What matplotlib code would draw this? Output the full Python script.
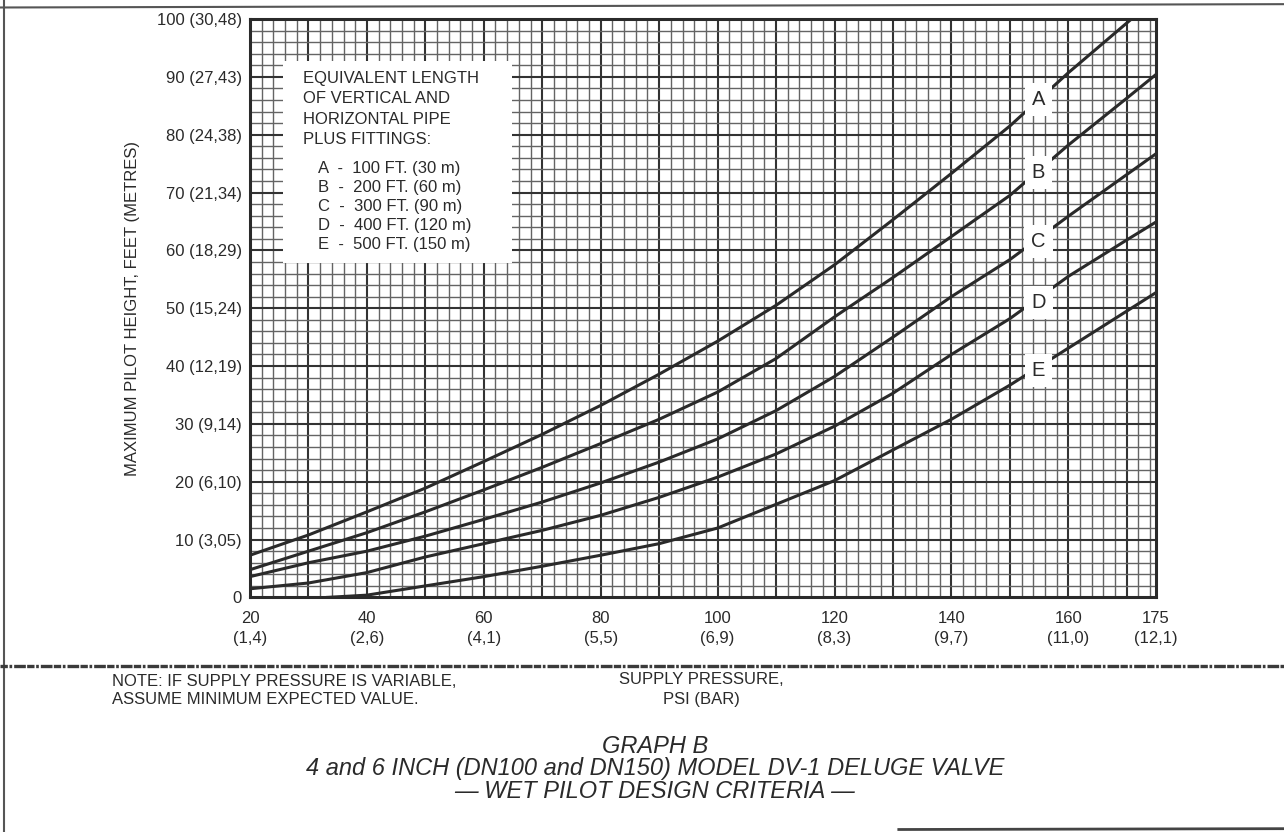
import matplotlib

matplotlib.use("Agg")

import matplotlib.pyplot as plt
import numpy as np
from matplotlib.lines import Line2D
from matplotlib.patches import Rectangle

plt.rcParams["font.family"] = ["Liberation Sans", "DejaVu Sans"]

psi = [20, 30, 40, 50, 60, 70, 80, 90, 100, 110, 120, 130, 140, 150, 160, 170, 175]
height_a = [7.3, 10.8, 14.8, 18.9, 23.5, 28.2, 33.2, 38.6, 44.3, 50.5, 57.5, 65.3, 73.3, 81.5, 90.7, 99.3, 103.6]
height_b = [4.8, 8.0, 11.2, 14.8, 18.6, 22.5, 26.6, 30.8, 35.5, 41.3, 48.5, 55.3, 62.4, 69.5, 78.2, 86.3, 90.4]
height_c = [3.6, 6.0, 8.0, 10.6, 13.5, 16.5, 19.8, 23.4, 27.4, 32.3, 38.2, 45.0, 52.0, 58.4, 65.9, 73.1, 76.7]
height_d = [1.5, 2.5, 4.3, 7.0, 9.3, 11.6, 14.2, 17.3, 20.8, 24.8, 29.6, 35.3, 42.0, 48.2, 55.5, 61.8, 64.9]
psi_e = [33, 40, 50, 60, 70, 80, 90, 100, 110, 120, 130, 140, 150, 160, 170, 175]
height_e = [0.0, 0.4, 2.0, 3.6, 5.4, 7.3, 9.3, 12.0, 16.1, 20.2, 25.5, 30.8, 36.7, 43.1, 49.5, 52.7]

curve_names = ["A", "B", "C", "D", "E"]
label_psi = 154.9
label_heights = [86.1, 73.5, 61.5, 51.0, 39.3]

legend_heading = ["EQUIVALENT LENGTH", "OF VERTICAL AND", "HORIZONTAL PIPE", "PLUS FITTINGS:"]
legend_items = [
    "A  -  100 FT. (30 m)",
    "B  -  200 FT. (60 m)",
    "C  -  300 FT. (90 m)",
    "D  -  400 FT. (120 m)",
    "E  -  500 FT. (150 m)",
]

x_ticks = [20, 40, 60, 80, 100, 120, 140, 160, 175]
x_tick_labels = ["20\n(1,4)", "40\n(2,6)", "60\n(4,1)", "80\n(5,5)", "100\n(6,9)",
                 "120\n(8,3)", "140\n(9,7)", "160\n(11,0)", "175\n(12,1)"]
y_ticks = [0, 10, 20, 30, 40, 50, 60, 70, 80, 90, 100]
y_tick_labels = ["0", "10 (3,05)", "20 (6,10)", "30 (9,14)", "40 (12,19)", "50 (15,24)",
                 "60 (18,29)", "70 (21,34)", "80 (24,38)", "90 (27,43)", "100 (30,48)"]

INK = "#2a2a2a"

fig = plt.figure(figsize=(12.84, 8.32), dpi=100)
ax = fig.add_axes([0.1947, 0.2819, 0.7056, 0.6953])
ax.set_xlim(20, 175)
ax.set_ylim(0, 100)

# graph paper: 2-unit minor squares, heavier every 10
for gx in np.arange(22, 175, 2):
    heavy = gx % 10 == 0
    ax.axvline(gx, color="#333333" if heavy else "#646464", lw=1.5 if heavy else 1.0, zorder=1)
for gy in np.arange(2, 100, 2):
    heavy = gy % 10 == 0
    ax.axhline(gy, color="#333333" if heavy else "#646464", lw=1.5 if heavy else 1.0, zorder=1)

# white legend panel cut out of the grid
ax.add_patch(Rectangle((25.6, 57.8), 39.2, 34.9, facecolor="white", edgecolor="none", zorder=2))
for i, line in enumerate(legend_heading):
    ax.text(29.1, 89.7 - 3.5 * i, line, fontsize=12, color=INK, va="center", ha="left", zorder=3)
for i, line in enumerate(legend_items):
    ax.text(31.6, 74.2 - 3.3 * i, line, fontsize=12, color=INK, va="center", ha="left", zorder=3)

for ys in [height_a, height_b, height_c, height_d]:
    ax.plot(psi, ys, color=INK, lw=2.2, zorder=4, solid_capstyle="butt")
ax.plot(psi_e, height_e, color=INK, lw=2.2, zorder=4, solid_capstyle="butt")

for name, h in zip(curve_names, label_heights):
    ax.text(label_psi, h, name, fontsize=14.5, color=INK, ha="center", va="center", zorder=5,
            bbox=dict(boxstyle="square,pad=0.35", facecolor="white", edgecolor="none"))

ax.set_xticks(x_ticks)
ax.set_xticklabels(x_tick_labels, fontsize=12, color=INK, linespacing=1.35)
ax.set_yticks(y_ticks)
ax.set_yticklabels(y_tick_labels, fontsize=12, color=INK)
ax.tick_params(axis="both", length=0)
ax.tick_params(axis="x", pad=10)
ax.tick_params(axis="y", pad=6)
for spine in ax.spines.values():
    spine.set_linewidth(2.2)
    spine.set_color(INK)
    spine.set_zorder(6)
ax.set_ylabel("MAXIMUM PILOT HEIGHT, FEET (METRES)", fontsize=12, color=INK, labelpad=12)

# page frame and the torn separator band
fig.add_artist(Line2D([0.003, 0.003], [0, 1], transform=fig.transFigure, color="#555555", lw=1.5))
fig.add_artist(Line2D([0, 1], [0.991, 0.995], transform=fig.transFigure, color="#555555", lw=1.5))
fig.add_artist(Line2D([0.70, 1], [0.003, 0.004], transform=fig.transFigure, color="#444444", lw=2))
fig.add_artist(Line2D([0, 1], [0.1995, 0.1995], transform=fig.transFigure, color="#3a3a3a",
                      lw=2.4, dashes=(2.2, 0.5, 0.8, 0.6, 3.5, 0.4)))

fig.text(0.0872, 0.1806, "NOTE: IF SUPPLY PRESSURE IS VARIABLE,", fontsize=12, color=INK, va="center")
fig.text(0.0872, 0.1587, "ASSUME MINIMUM EXPECTED VALUE.", fontsize=12, color=INK, va="center")
fig.text(0.546, 0.1835, "SUPPLY PRESSURE,", fontsize=12, color=INK, ha="center", va="center")
fig.text(0.546, 0.1587, "PSI (BAR)", fontsize=12, color=INK, ha="center", va="center")

fig.text(0.5101, 0.1025, "GRAPH B", fontsize=17, style="italic", color=INK, ha="center", va="center")
fig.text(0.5101, 0.0769, "4 and 6 INCH (DN100 and DN150) MODEL DV-1 DELUGE VALVE", fontsize=17,
         style="italic", color=INK, ha="center", va="center")
fig.text(0.5101, 0.0484, "\u2014 WET PILOT DESIGN CRITERIA \u2014", fontsize=17, style="italic",
         color=INK, ha="center", va="center")

fig.savefig("out.png", dpi=100)
